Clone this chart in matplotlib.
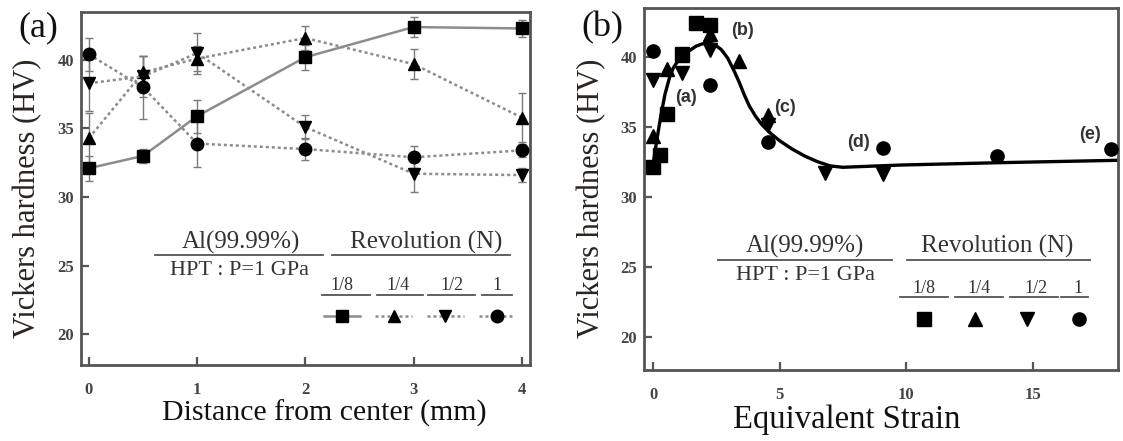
import matplotlib
matplotlib.use("Agg")
import matplotlib.pyplot as plt
from matplotlib.lines import Line2D

# ---------------- data ----------------
distance = [0, 0.5, 1, 2, 3, 4]                # mm
rev_labels = ["1/8", "1/4", "1/2", "1"]
hv_n18 = [32.1, 33.0, 35.9, 40.2, 42.4, 42.3]
hv_n14 = [34.3, 39.1, 40.1, 41.6, 39.7, 35.8]
hv_n12 = [38.3, 38.8, 40.5, 35.1, 31.7, 31.6]
hv_n1 = [40.4, 38.0, 33.9, 33.5, 32.9, 33.4]
err_n18 = [0.9, 0.5, 1.2, 0.9, 0.7, 0.6]
err_n14 = [1.8, 1.2, 0.9, 0.9, 1.1, 1.8]
err_n12 = [2.0, 1.5, 1.5, 0.9, 1.3, 0.5]
err_n1 = [1.2, 2.3, 1.7, 0.8, 0.8, 0.5]

strain_n18 = [0, 0.28, 0.57, 1.13, 1.70, 2.27]
strain_n14 = [0, 0.57, 1.13, 2.27, 3.40, 4.53]
strain_n12 = [0, 1.13, 2.27, 4.53, 6.80, 9.07]
strain_n1 = [0, 2.27, 4.53, 9.07, 13.60, 18.10]

curve_strain = [0.0, 0.15, 0.30, 0.47, 0.65, 0.80, 1.00, 1.20, 1.45, 1.70,
                1.95, 2.20, 2.45, 2.70, 2.95, 3.20, 3.40, 3.60, 3.80, 4.05,
                4.30, 4.60, 5.00, 5.50, 6.00, 6.50, 7.00, 7.50, 9.76, 13.7,
                18.4]
curve_hv = [32.3, 34.05, 35.7, 37.3, 38.5, 39.2, 39.75, 40.1, 40.45, 40.75,
            40.92, 41.0, 40.85, 40.5, 39.9, 39.0, 38.2, 37.3, 36.5, 35.75,
            35.15, 34.6, 34.0, 33.4, 32.9, 32.5, 32.2, 32.1, 32.26, 32.43,
            32.6]

point_labels = ["(a)", "(b)", "(c)", "(d)", "(e)"]
point_label_x = [1.30, 3.52, 5.22, 8.14, 17.27]
point_label_y = [37.05, 41.84, 36.4, 33.84, 34.41]

# ---------------- style ----------------
SERIF = ["Liberation Serif", "DejaVu Serif"]
plt.rcParams["font.family"] = SERIF
FRAME = "#555555"
TXT = "#333333"
LINEGRAY = "#8c8c8c"

fig = plt.figure(figsize=(11.23, 4.41), dpi=100)
axa = fig.add_axes([0.0721, 0.1723, 0.3998, 0.8005])
axb = fig.add_axes([0.5735, 0.161, 0.4221, 0.8209])

def style_axes(ax):
    for s in ax.spines.values():
        s.set_color(FRAME)
        s.set_linewidth(2.0)
    ax.tick_params(direction="in", length=6, width=1.6, color=FRAME,
                   labelsize=12, labelcolor="#444444", top=False, right=False)
    for lab in ax.get_xticklabels() + ax.get_yticklabels():
        lab.set_fontweight("bold")
    ax.tick_params(axis="x", pad=12)
    ax.tick_params(axis="y", pad=5)

markers = ["s", "^", "v", "o"]
styles = ["-", (0, (1.2, 1.2)), (0, (1.2, 1.2)), (0, (1.2, 1.2))]
hv_all = [hv_n18, hv_n14, hv_n12, hv_n1]
err_all = [err_n18, err_n14, err_n12, err_n1]
strain_all = [strain_n18, strain_n14, strain_n12, strain_n1]

# ---------------- panel (a) ----------------
handles_a = []
for hv, er, mk, ls in zip(hv_all, err_all, markers, styles):
    axa.errorbar(distance, hv, yerr=er, fmt="none", ecolor="#7a7a7a",
                 elinewidth=1.0, capsize=3, capthick=1.0, zorder=2)
    ln, = axa.plot(distance, hv, linestyle=ls, color=LINEGRAY, linewidth=1.8,
                   marker=mk, markersize=9, markerfacecolor="black",
                   markeredgecolor="black", zorder=3)
    handles_a.append(ln)

axa.set_xlim(-0.074, 4.076)
axa.set_ylim(17.74, 43.5)
axa.set_xticks([0, 1, 2, 3, 4])
axa.set_yticks([20, 25, 30, 35, 40])
style_axes(axa)
axa.set_xlabel("Distance from center (mm)", fontsize=21.5, color="#111111", va="center")
axa.xaxis.set_label_coords(0.543, -0.136)
axa.set_ylabel("Vickers hardness (HV)", fontsize=22, color="#2a2520", va="center")
axa.yaxis.set_label_coords(-0.120, 0.473)

# ---------------- panel (b) ----------------
handles_b = []
for st, hv, mk in zip(strain_all, hv_all, markers):
    ln, = axb.plot(st, hv, linestyle="none", marker=mk, markersize=9.5,
                   markerfacecolor="black", markeredgecolor="black", zorder=3)
    handles_b.append(ln)
axb.plot(curve_strain, curve_hv, color="black", linewidth=2.4, zorder=2,
         solid_capstyle="butt", solid_joinstyle="round")
for lab, x, y in zip(point_labels, point_label_x, point_label_y):
    axb.text(x, y, lab, ha="center", va="center", fontsize=13,
             fontweight="bold", color="#333333",
             family=["Liberation Sans", "DejaVu Sans"])

axb.set_xlim(-0.356, 18.38)
axb.set_ylim(17.62, 43.48)
axb.set_xticks([0, 5, 10, 15])
axb.set_yticks([20, 25, 30, 35, 40])
style_axes(axb)
axb.set_xlabel("Equivalent Strain", fontsize=23.5, color="#111111", va="center")
axb.xaxis.set_label_coords(0.428, -0.138)
axb.set_ylabel("Vickers hardness (HV)", fontsize=22, color="#2a2520", va="center")
axb.yaxis.set_label_coords(-0.110, 0.475)

# ---------------- legend blocks ----------------
def legend_block(ax, handles, al_xy, hpt_xy, rev_xy, ul_left, ul_right, ul_y,
                 sub_x, sub_y, sub_ul, sub_ul_y, leg_xy):
    tr = ax.transAxes
    ax.text(al_xy[0], al_xy[1], "Al(99.99%)", transform=tr, ha="center",
            va="center", fontsize=18, color=TXT)
    ax.text(hpt_xy[0], hpt_xy[1], "HPT : P=1 GPa", transform=tr, ha="center",
            va="center", fontsize=16, color=TXT)
    ax.text(rev_xy[0], rev_xy[1], "Revolution (N)", transform=tr, ha="center",
            va="center", fontsize=18, color=TXT)
    for (x0, x1) in zip(ul_left, ul_right):
        ax.add_line(Line2D([x0, x1], [ul_y, ul_y], transform=tr, color="#555555",
                           linewidth=1.3, clip_on=False))
    for lab, x in zip(rev_labels, sub_x):
        ax.text(x, sub_y, lab, transform=tr, ha="center", va="center",
                fontsize=13, color=TXT)
    for (x0, x1) in sub_ul:
        ax.add_line(Line2D([x0, x1], [sub_ul_y, sub_ul_y], transform=tr,
                           color="#555555", linewidth=1.3, clip_on=False))
    ax.legend(handles, ["", "", "", ""], ncol=4, loc="center",
              bbox_to_anchor=leg_xy, frameon=False, borderpad=0,
              handlelength=2.6, handletextpad=0.0, columnspacing=1.14,
              fontsize=10, borderaxespad=0)

legend_block(axa, handles_a,
             al_xy=(0.356, 0.346), hpt_xy=(0.352, 0.269), rev_xy=(0.768, 0.346),
             ul_left=[0.165, 0.559], ul_right=[0.539, 0.955], ul_y=0.312,
             sub_x=[0.581, 0.706, 0.826, 0.926], sub_y=0.226,
             sub_ul=[(0.537, 0.644), (0.659, 0.762), (0.773, 0.877), (0.893, 0.960)],
             sub_ul_y=0.198, leg_xy=(0.754, 0.136))
legend_block(axb, handles_b,
             al_xy=(0.340, 0.340), hpt_xy=(0.340, 0.260), rev_xy=(0.745, 0.340),
             ul_left=[0.156, 0.555], ul_right=[0.523, 0.941], ul_y=0.304,
             sub_x=[0.591, 0.707, 0.827, 0.916], sub_y=0.225,
             sub_ul=[(0.540, 0.641), (0.656, 0.758), (0.772, 0.873), (0.880, 0.937)],
             sub_ul_y=0.202, leg_xy=(0.754, 0.138))

# ---------------- panel letters ----------------
fig.text(38 / 1123, 1 - 28 / 441, "(a)", ha="center", va="center", fontsize=26,
         color="#111111")
fig.text(602 / 1123, 1 - 28 / 441, "(b)", ha="center", va="center", fontsize=26,
         color="#111111")

fig.savefig("out.png", dpi=100)
